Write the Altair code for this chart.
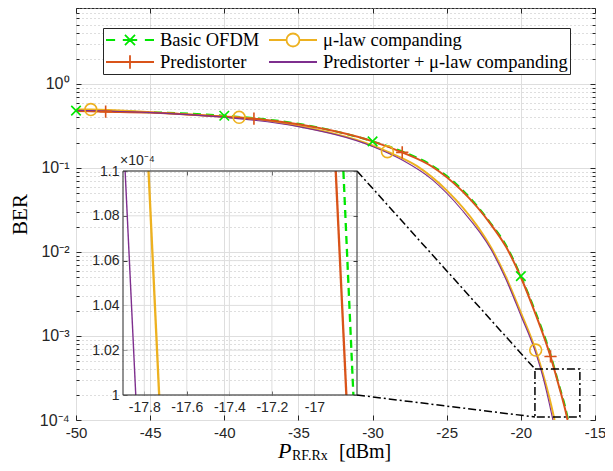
import altair as alt
import pandas as pd

# ---------------- data ----------------
series_names = ["Basic OFDM", "μ-law companding", "Predistorter", "Predistorter + μ-law companding"]
series_colors = ["#00E600", "#EDB120", "#D95319", "#7E2F8E"]
legend_order = [0, 2, 1, 3]  # legend fills column by column

basic_x = [-50, -45, -40, -35, -30, -28, -26, -24, -22, -21, -20, -19, -18, -17.5, -16.864, -16.817]
basic_ber = [0.48, 0.46, 0.418, 0.335, 0.207, 0.157, 0.107, 0.056, 0.0215, 0.012, 0.00515, 0.0019, 0.0006, 0.00029, 0.00011, 0.0001]
basic_markers = [-50, -40, -30, -20]

mulaw_x = [-50, -49, -45, -40, -39, -35, -30, -29, -27, -25, -23, -22, -21, -20, -19, -18.5, -17.78, -17.73]
mulaw_ber = [0.495, 0.495, 0.46, 0.41, 0.40, 0.315, 0.185, 0.156, 0.105, 0.054, 0.021, 0.0112, 0.005, 0.0019, 0.00068, 0.00035, 0.00011, 0.0001]
mulaw_markers = [-49, -39, -29, -19]

pred_x = [-50, -48, -45, -40, -38, -35, -30, -28, -26, -24, -22, -21, -20, -19, -18, -17.5, -16.9, -16.85]
pred_ber = [0.475, 0.467, 0.455, 0.405, 0.385, 0.33, 0.207, 0.153, 0.104, 0.054, 0.021, 0.0115, 0.005, 0.0018, 0.00057, 0.00028, 0.00011, 0.0001]
pred_markers = [-48, -38, -28, -18]

predmu_x = [-50, -45, -40, -35, -30, -28, -26, -24, -22, -21, -20, -19, -18.5, -17.89, -17.84]
predmu_ber = [0.485, 0.455, 0.40, 0.31, 0.18, 0.124, 0.073, 0.032, 0.0106, 0.0047, 0.00175, 0.00063, 0.00032, 0.00011, 0.0001]
predmu_markers = []

x_ticks = [-50, -45, -40, -35, -30, -25, -20, -15]
y_major = [1e-4, 1e-3, 1e-2, 1e-1, 1]
y_minor = [m * 10.0 ** e for e in range(-4, 1) for m in range(2, 10) if m * 10.0 ** e <= 8]
y_labels = ["10⁻⁴", "10⁻³", "10⁻²", "10⁻¹", "10⁰"]

inset_x_dom = [-17.9, -16.8]
inset_y_dom = [1.0e-4, 1.1e-4]
inset_x_ticks = [-17.8, -17.6, -17.4, -17.2, -17.0]
inset_y_ticks = [1.0e-4, 1.02e-4, 1.04e-4, 1.06e-4, 1.08e-4, 1.1e-4]

zoom_box_x = [-19.05, -16.02]
zoom_box_ber = [1.086e-4, 4.05e-4]
conn_x = [-31.05, -19.05]
conn_top_ber = [0.0919, 4.05e-4]
conn_bot_ber = [1.984e-4, 1.086e-4]

x_title_p = "P"
x_title_sub = "RF.Rx"
x_title_unit = "[dBm]"
inset_exp_label = "×10⁻⁴"

# ---------------- styles ----------------
W, H = 519, 412
INSET_PX_X = [47, 281]
INSET_PX_Y = [387, 163]
AXC = "#262626"
GRID = "#DEDEDE"
MINOR = "#BDBDBD"
SANS = "Liberation Sans"
SERIF = "Liberation Serif"

series_x = [basic_x, mulaw_x, pred_x, predmu_x]
series_y = [basic_ber, mulaw_ber, pred_ber, predmu_ber]
series_mk = [basic_markers, mulaw_markers, pred_markers, predmu_markers]
series_widths = [2, 2, 2, 1.1]
marker_paths = ["M-1,-1L1,1M-1,1L1,-1", "circle", "M-1,0H1M0,-1V1", None]
marker_sizes = [90, 140, 150, 0]
legend_paths = [
    "M-1,0H-0.62M-0.3,0H0.3M0.62,0H1M-0.21,-0.21L0.21,0.21M-0.21,0.21L0.21,-0.21",
    "M-1,0H-0.27M0.27,0H1M0.27,0A0.27,0.27,0,1,1,-0.27,0A0.27,0.27,0,1,1,0.27,0",
    "M-1,0H1M0,-0.28V0.28",
    "M-1,0H1",
]

frames = []
for name, xs, ys, mk in zip(series_names, series_x, series_y, series_mk):
    frames.append(pd.DataFrame({"series": name, "x": xs, "ber": ys, "mk": [v in mk for v in xs]}))
df_all = pd.concat(frames, ignore_index=True)

xs_main = alt.Scale(domain=[-50, -15], nice=False, zero=False)
ys_main = alt.Scale(type="log", domain=[1e-4, 8], nice=False)

minus_fix = "replace(format(datum.value, 'd'), '\u2212', '-')"
ylab_expr = "[" + ",".join("'" + s + "'" for s in y_labels) + "][round(log(datum.value)/LN10)+4]"

ax_x_main = alt.Axis(values=x_ticks, labelExpr=minus_fix, grid=True, gridColor=GRID, ticks=False,
                     domain=False, labelFont=SANS, labelFontSize=15, labelColor=AXC, labelPadding=5,
                     labelFlush=False, labelOverlap=False, title=None)
ay_main = alt.Axis(values=y_major, labelExpr=ylab_expr, grid=True, gridColor=GRID, ticks=False,
                   domain=False, labelFont=SANS, labelFontSize=16, labelColor=AXC, labelPadding=7,
                   labelFlush=False, labelOverlap=False, title="BER", titleFont=SERIF,
                   titleFontSize=21, titleFontWeight="normal", titleColor="black",
                   titleX=-50, titleY=H / 2, titleBaseline="alphabetic")
ay_minor_grid = alt.Axis(values=y_minor, grid=True, gridColor=MINOR, gridDash=[1, 3], ticks=False,
                         labels=False, domain=False, title=None)


def tick_axis(vals, orient, size, offset=0):
    return alt.Axis(values=vals, orient=orient, offset=-(size + offset), tickSize=size, ticks=True,
                    tickColor=AXC, labels=False, domain=False, grid=False, title=None)


def axis_layer(xaxis, yaxis):
    return alt.Chart(df_all).mark_point(opacity=0).encode(
        x=alt.X("x:Q", scale=xs_main, axis=xaxis),
        y=alt.Y("ber:Q", scale=ys_main, axis=yaxis),
    )


main_layers = [
    axis_layer(ax_x_main, ay_main),
    axis_layer(None, ay_minor_grid),
    axis_layer(tick_axis(x_ticks, "bottom", 5), tick_axis(y_major, "left", 5)),
    axis_layer(tick_axis(x_ticks, "top", 5), tick_axis(y_minor, "left", 3)),
    axis_layer(None, tick_axis(y_major, "right", 5)),
    axis_layer(None, tick_axis(y_minor, "right", 3)),
]

for i, name in enumerate(series_names):
    d = df_all[df_all.series == name]
    kw = dict(color=series_colors[i], strokeWidth=series_widths[i], clip=True, interpolate="monotone")
    if i == 0:
        kw["strokeDash"] = [8, 5]
    main_layers.append(alt.Chart(d).mark_line(**kw).encode(
        x=alt.X("x:Q", scale=xs_main, axis=None), y=alt.Y("ber:Q", scale=ys_main, axis=None)))

for i, name in enumerate(series_names):
    if marker_paths[i] is None:
        continue
    d = df_all[(df_all.series == name) & (df_all.mk)]
    main_layers.append(alt.Chart(d).mark_point(shape=marker_paths[i], size=marker_sizes[i], filled=False,
                                               color=series_colors[i], strokeWidth=1.6, opacity=1).encode(
        x=alt.X("x:Q", scale=xs_main, axis=None), y=alt.Y("ber:Q", scale=ys_main, axis=None)))

# zoom box and connectors
df_box = pd.DataFrame({"x": [zoom_box_x[0]], "x2": [zoom_box_x[1]], "y": [zoom_box_ber[0]], "y2": [zoom_box_ber[1]]})
main_layers.append(alt.Chart(df_box).mark_rect(fillOpacity=0, stroke="black", strokeWidth=1.5,
                                               strokeDash=[8, 3, 2, 3]).encode(
    x=alt.X("x:Q", scale=xs_main, axis=None), x2="x2",
    y=alt.Y("y:Q", scale=ys_main, axis=None), y2="y2"))
df_conn = pd.DataFrame({"x": conn_x + conn_x, "ber": conn_top_ber + conn_bot_ber, "id": ["a", "a", "b", "b"]})
main_layers.append(alt.Chart(df_conn).mark_line(color="black", strokeWidth=1.5, strokeDash=[8, 3, 2, 3]).encode(
    x=alt.X("x:Q", scale=xs_main, axis=None), y=alt.Y("ber:Q", scale=ys_main, axis=None), detail="id:N"))

# legend (invisible carrier layer)
leg_names = [series_names[i] for i in legend_order]
leg_colors = [series_colors[i] for i in legend_order]
leg_paths = [legend_paths[i] for i in legend_order]
legend = alt.Legend(title=None, orient="none", legendX=27, legendY=20, columns=2, symbolSize=2304,
                    symbolStrokeWidth=1.8, symbolOpacity=1, clipHeight=20, labelFont=SERIF, labelFontSize=18.5,
                    labelColor="black", labelLimit=500, strokeColor=AXC, fillColor="white", padding=2,
                    rowPadding=2, columnPadding=8, labelOffset=5)
main_layers.append(alt.Chart(df_all).mark_point(opacity=0, filled=False).encode(
    x=alt.X("x:Q", scale=xs_main, axis=None), y=alt.Y("ber:Q", scale=ys_main, axis=None),
    stroke=alt.Stroke("series:N", scale=alt.Scale(domain=leg_names, range=leg_colors), legend=legend),
    shape=alt.Shape("series:N", scale=alt.Scale(domain=leg_names, range=leg_paths), legend=legend)))

# x title made of three texts
one = pd.DataFrame({"k": [0]})
main_layers.append(alt.Chart(one).mark_text(text=x_title_p, font=SERIF, fontStyle="italic", fontSize=22,
                                            align="left", baseline="alphabetic", color="black").encode(
    x=alt.value(202), y=alt.value(450)))
main_layers.append(alt.Chart(one).mark_text(text=x_title_sub, font=SERIF, fontSize=14,
                                            align="left", baseline="alphabetic", color="black").encode(
    x=alt.value(216), y=alt.value(452)))
main_layers.append(alt.Chart(one).mark_text(text=x_title_unit, font=SERIF, fontSize=20,
                                            align="left", baseline="alphabetic", color="black").encode(
    x=alt.value(263), y=alt.value(450)))
main_layers.append(alt.Chart(one).mark_text(text=inset_exp_label, font=SANS, fontSize=14,
                                            align="left", baseline="alphabetic", color=AXC).encode(
    x=alt.value(INSET_PX_X[0] - 3), y=alt.value(INSET_PX_Y[1] - 6)))

main = alt.layer(*main_layers).resolve_axis(x="independent", y="independent")

# ---------------- inset ----------------
xs_in = alt.Scale(domain=inset_x_dom, range=INSET_PX_X, nice=False, zero=False)
ys_in = alt.Scale(domain=inset_y_dom, range=INSET_PX_Y, nice=False, zero=False)
ax_x_in = alt.Axis(values=inset_x_ticks, orient="bottom", offset=-(H - INSET_PX_Y[0]),
                   labelExpr="replace(format(datum.value, '.3~g'), '\u2212', '-')", ticks=False, domain=False,
                   grid=False, labelFont=SANS, labelFontSize=14, labelColor=AXC, labelPadding=5,
                   labelFlush=False, labelOverlap=False, title=None)
ay_in = alt.Axis(values=inset_y_ticks, orient="left", offset=-INSET_PX_X[0],
                 labelExpr="format(datum.value * 10000, '.3~g')", ticks=False, domain=False, grid=False,
                 labelFont=SANS, labelFontSize=14, labelColor=AXC, labelPadding=4,
                 labelFlush=False, labelOverlap=False, title=None)

df_vgrid = pd.DataFrame({"x": inset_x_ticks, "y": inset_y_dom[0], "y2": inset_y_dom[1]})
df_hgrid = pd.DataFrame({"y": inset_y_ticks, "x": inset_x_dom[0], "x2": inset_x_dom[1]})
df_frame = pd.DataFrame({"x": [inset_x_dom[0]], "x2": [inset_x_dom[1]], "y": [inset_y_dom[0]], "y2": [inset_y_dom[1]]})


def inset_axis_layer(xaxis, yaxis):
    return alt.Chart(df_frame).mark_point(opacity=0).encode(
        x=alt.X("x:Q", scale=xs_in, axis=xaxis), y=alt.Y("y:Q", scale=ys_in, axis=yaxis))


inset_layers = [
    inset_axis_layer(ax_x_in, ay_in),
    inset_axis_layer(tick_axis(inset_x_ticks, "bottom", 4, H - INSET_PX_Y[0]),
                     tick_axis(inset_y_ticks, "left", 4, INSET_PX_X[0])),
    inset_axis_layer(tick_axis(inset_x_ticks, "top", 4, INSET_PX_Y[1]),
                     tick_axis(inset_y_ticks, "right", 4, W - INSET_PX_X[1])),
    alt.Chart(df_vgrid).mark_rule(color=GRID, strokeWidth=1).encode(
        x=alt.X("x:Q", scale=xs_in, axis=None), y=alt.Y("y:Q", scale=ys_in, axis=None), y2="y2"),
    alt.Chart(df_hgrid).mark_rule(color=GRID, strokeWidth=1).encode(
        y=alt.Y("y:Q", scale=ys_in, axis=None), x=alt.X("x:Q", scale=xs_in, axis=None), x2="x2"),
]
for i, name in enumerate(series_names):
    d = df_all[(df_all.series == name) & (df_all.ber <= inset_y_dom[1] * 1.000001)]
    kw = dict(color=series_colors[i], strokeWidth=series_widths[i] + 0.3)
    if i == 0:
        kw["strokeDash"] = [8, 5]
    inset_layers.append(alt.Chart(d).mark_line(**kw).encode(
        x=alt.X("x:Q", scale=xs_in, axis=None), y=alt.Y("ber:Q", scale=ys_in, axis=None)))
inset_layers.append(alt.Chart(df_frame).mark_rect(fillOpacity=0, stroke=AXC, strokeWidth=1).encode(
    x=alt.X("x:Q", scale=xs_in, axis=None), x2="x2", y=alt.Y("y:Q", scale=ys_in, axis=None), y2="y2"))
inset = alt.layer(*inset_layers).resolve_axis(x="independent", y="independent")

chart = alt.layer(main, inset).resolve_scale(x="independent", y="independent").properties(
    width=W, height=H, autosize="none", padding={"left": 68, "top": 0, "right": 10, "bottom": 43},
    background="white",
).configure_view(stroke=AXC, strokeWidth=1)

chart.save("out.html", embed_options={"renderer": "svg", "actions": False})
